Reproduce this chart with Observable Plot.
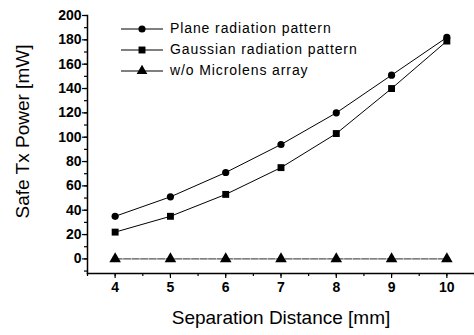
<!DOCTYPE html>
<html>
<head>
<meta charset="utf-8">
<script src="https://cdn.jsdelivr.net/npm/d3@7"></script>
<script src="https://cdn.jsdelivr.net/npm/@observablehq/plot@0.6"></script>
<style>
  html, body { margin: 0; padding: 0; background: #fff; }
  #wrap { position: relative; width: 474px; height: 335px; font-family: "Liberation Sans", Arial, sans-serif; }
  #legend { position: absolute; left: 120px; top: 18px; font-size: 14px; letter-spacing: 0.9px; color: #000; }
  #legend .row { display: flex; align-items: center; height: 21px; line-height: 21px; }
  #legend svg { margin-right: 6px; display: block; }
</style>
</head>
<body>
<div id="wrap"><div id="chart"></div><div id="legend"></div></div>
<script>
const distances = [4, 5, 6, 7, 8, 9, 10];
const planeValues = [35, 51, 71, 94, 120, 151, 182];
const gaussianValues = [22, 35, 53, 75, 103, 140, 179];
const noLensValues = [0, 0, 0, 0, 0, 0, 0];
const seriesNames = ["Plane radiation pattern", "Gaussian radiation pattern", "w/o Microlens array"];
const seriesSymbols = ["circle", "square", "triangle"];
const xTicks = [4, 5, 6, 7, 8, 9, 10];
const yTicks = [0, 20, 40, 60, 80, 100, 120, 140, 160, 180, 200];
const xTitle = "Separation Distance [mm]";
const yTitle = "Safe Tx Power [mW]";

const allValues = [planeValues, gaussianValues, noLensValues];
const rows = [];
allValues.forEach((vals, i) => vals.forEach((v, j) => rows.push({series: seriesNames[i], x: distances[j], y: v})));
const bySeries = name => rows.filter(r => r.series === name);

const chart = Plot.plot({
  width: 474,
  height: 335,
  marginLeft: 87,
  marginRight: 0,
  marginTop: 15,
  marginBottom: 62,
  style: {fontFamily: "'Liberation Sans', Arial, sans-serif", background: "#fff", color: "#000"},
  x: {domain: [3.5, 10.5]},
  y: {domain: [-12, 200]},
  marks: [
    Plot.frame({anchor: "left", stroke: "#000", strokeWidth: 1.5}),
    Plot.frame({anchor: "bottom", stroke: "#000", strokeWidth: 1.5}),
    Plot.axisY({ticks: d3.range(-10, 201, 10), tickSize: 3, text: null, label: null, strokeWidth: 1.2}),
    Plot.axisY({ticks: yTicks, tickSize: 5, tickPadding: 1, fontSize: 14, fontWeight: "bold", label: null, tickFormat: d => String(d), strokeWidth: 1.2}),
    Plot.axisX({ticks: d3.range(3.5, 10.6, 0.5), tickSize: 3, text: null, label: null, strokeWidth: 1.2}),
    Plot.axisX({ticks: xTicks, tickSize: 5, tickPadding: 4, fontSize: 14, fontWeight: "bold", label: null, tickFormat: d => String(d), strokeWidth: 1.2}),
    Plot.line(bySeries(seriesNames[0]), {x: "x", y: "y", stroke: "#000", strokeWidth: 1}),
    Plot.line(bySeries(seriesNames[1]), {x: "x", y: "y", stroke: "#000", strokeWidth: 1}),
    Plot.line(bySeries(seriesNames[2]), {x: "x", y: "y", stroke: "#555", strokeWidth: 1.2, strokeDasharray: "7,1.5"}),
    Plot.dot(bySeries(seriesNames[0]), {x: "x", y: "y", r: 3.6, symbol: "circle", fill: "#000"}),
    Plot.dot(bySeries(seriesNames[1]), {x: "x", y: "y", r: 3.9, symbol: "square", fill: "#000"}),
    Plot.dot(bySeries(seriesNames[2]), {x: "x", y: "y", r: 4.3, symbol: "triangle", fill: "#000"}),
    Plot.text([yTitle], {frameAnchor: "left", textAnchor: "middle", rotate: -90, dx: -65, dy: -13, fontSize: 19, fill: "#000"}),
    Plot.text([xTitle], {frameAnchor: "bottom", dy: 50, fontSize: 19, fill: "#000"})
  ]
});
document.getElementById("chart").appendChild(chart);

const legend = document.getElementById("legend");
const symMap = {circle: [d3.symbolCircle, 40], square: [d3.symbolSquare, 48], triangle: [d3.symbolTriangle, 50]};
seriesNames.forEach((name, i) => {
  const row = document.createElement("div");
  row.className = "row";
  const [type, size] = symMap[seriesSymbols[i]];
  row.innerHTML = `<svg width="44" height="14"><line x1="1" x2="43" y1="7" y2="7" stroke="#000" stroke-width="1"/><path transform="translate(22,7)" d="${d3.symbol(type, size)()}" fill="#000"/></svg><span>${name}</span>`;
  legend.appendChild(row);
});
</script>
</body>
</html>
